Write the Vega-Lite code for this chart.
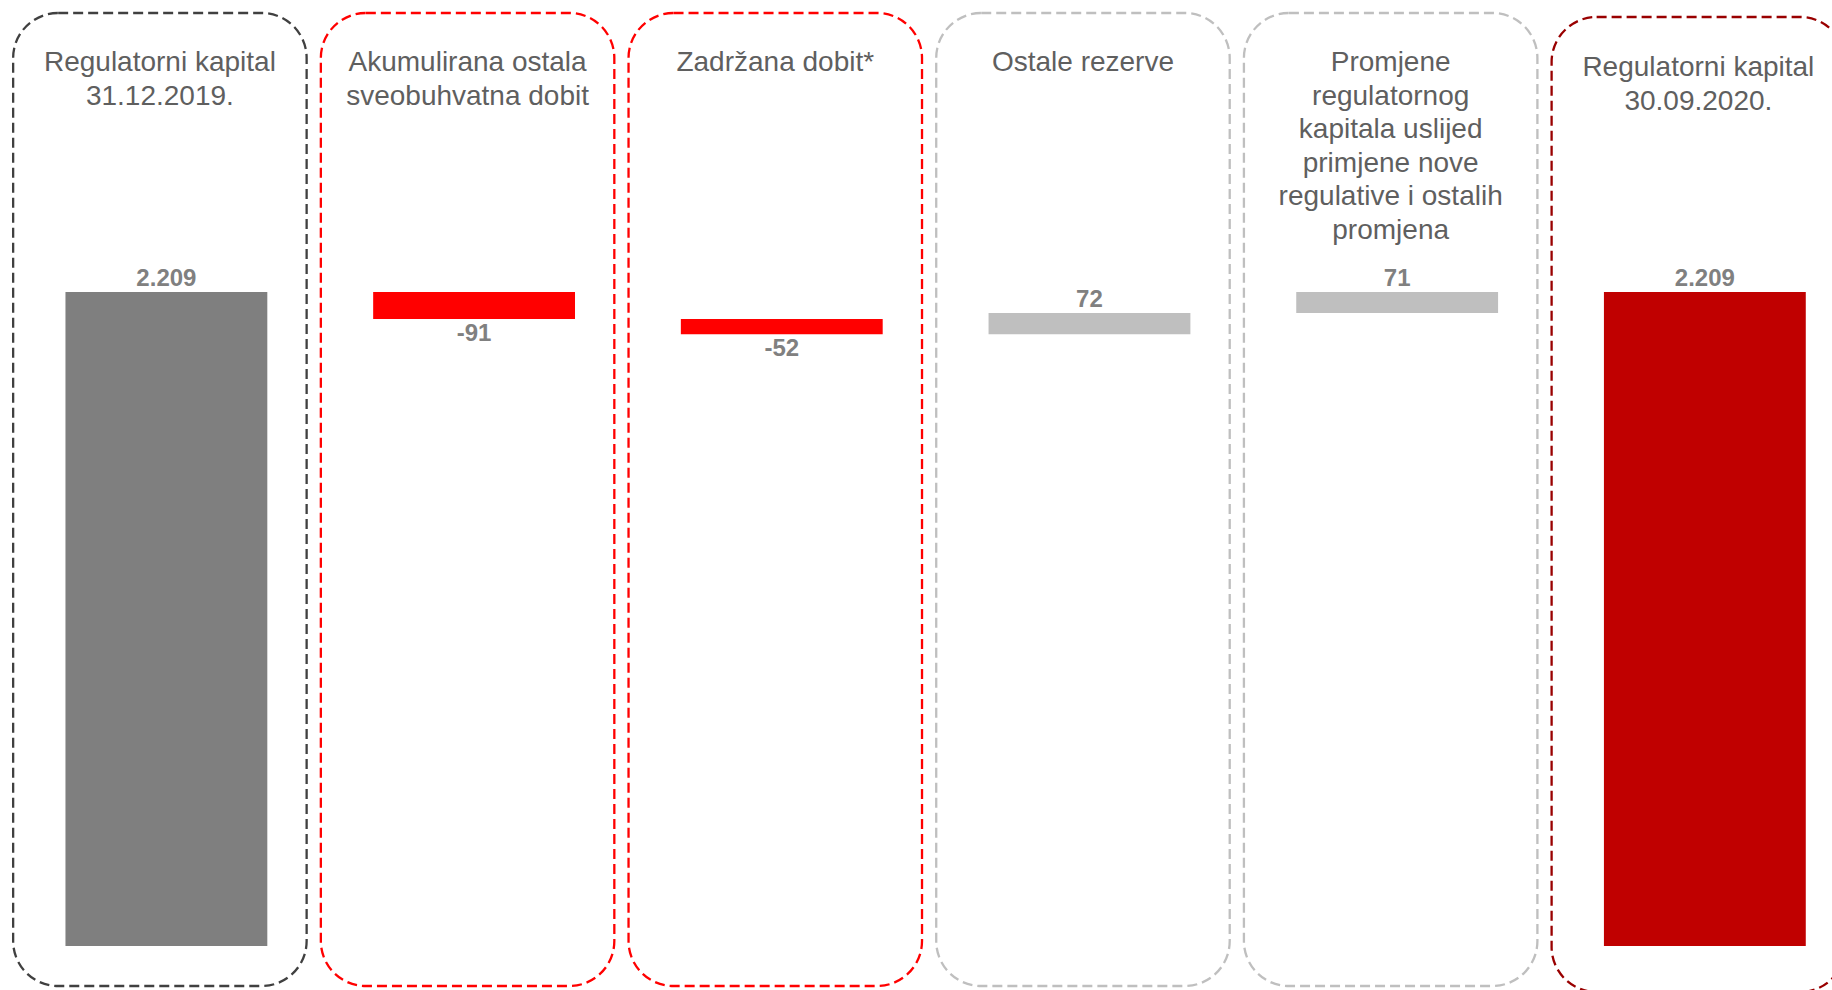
{
  "$schema": "https://vega.github.io/schema/vega-lite/v6.json",
  "autosize": {"type": "none"},
  "width": 1832,
  "height": 990,
  "padding": 0,
  "background": "white",
  "config": {"view": {"stroke": null}},
  "data": {
    "values": [
      {"key": "A", "title": "Regulatorni kapital\n31.12.2019.", "start": 0, "end": 2209, "value": 2209, "label": "2.209"},
      {"key": "B", "title": "Akumulirana ostala\nsveobuhvatna dobit", "start": 2209, "end": 2118, "value": -91, "label": "-91"},
      {"key": "C", "title": "Zadržana dobit*", "start": 2118, "end": 2066, "value": -52, "label": "-52"},
      {"key": "D", "title": "Ostale rezerve", "start": 2066, "end": 2138, "value": 72, "label": "72"},
      {"key": "E", "title": "Promjene\nregulatornog\nkapitala uslijed\nprimjene nove\nregulative i ostalih\npromjena", "start": 2138, "end": 2209, "value": 71, "label": "71"},
      {"key": "F", "title": "Regulatorni kapital\n30.09.2020.", "start": 0, "end": 2209, "value": 2209, "label": "2.209"}
    ]
  },
  "encoding": {
    "x": {
      "field": "key",
      "type": "nominal",
      "sort": ["A", "B", "C", "D", "E", "F"],
      "scale": {"paddingInner": 0.344, "paddingOuter": 0.149, "align": 0.714},
      "axis": null
    }
  },
  "layer": [
    {
      "transform": [{"filter": "datum.key !== 'F'"}],
      "mark": {"type": "bar", "width": {"band": 1.454}, "xOffset": -6.5, "cornerRadius": 45, "fillOpacity": 0, "fill": "white", "strokeWidth": 2.3, "strokeDash": [10, 5]},
      "encoding": {
        "y": {"datum": 3151.4, "type": "quantitative", "scale": {"domain": [-148.6, 3195.3], "nice": false, "zero": false}, "axis": null},
        "y2": {"datum": -135.1},
        "stroke": {"field": "key", "type": "nominal", "scale": {"domain": ["A", "B", "C", "D", "E", "F"], "range": ["#404040", "#FF0000", "#FF0000", "#BFBFBF", "#BFBFBF", "#990000"]}, "legend": null}
      }
    },
    {
      "transform": [{"filter": "datum.key === 'F'"}],
      "mark": {"type": "bar", "width": {"band": 1.454}, "xOffset": -6.5, "cornerRadius": 45, "fillOpacity": 0, "fill": "white", "strokeWidth": 2.3, "strokeDash": [10, 5]},
      "encoding": {
        "y": {"datum": 3137.9, "type": "quantitative"},
        "y2": {"datum": -155.4},
        "stroke": {"field": "key", "type": "nominal", "legend": null}
      }
    },
    {
      "mark": {"type": "bar"},
      "encoding": {
        "y": {"field": "start", "type": "quantitative"},
        "y2": {"field": "end"},
        "fill": {"field": "key", "type": "nominal", "scale": {"domain": ["A", "B", "C", "D", "E", "F"], "range": ["#7F7F7F", "#FF0000", "#FF0000", "#BFBFBF", "#BFBFBF", "#C00000"]}, "legend": null}
      }
    },
    {
      "transform": [{"filter": "datum.value >= 0"}],
      "mark": {"type": "text", "font": "Liberation Sans", "fontSize": 24, "fontWeight": "bold", "color": "#808080", "baseline": "alphabetic", "align": "center", "dy": -6},
      "encoding": {
        "y": {"field": "end", "type": "quantitative"},
        "text": {"field": "label", "type": "nominal"}
      }
    },
    {
      "transform": [{"filter": "datum.value < 0"}],
      "mark": {"type": "text", "font": "Liberation Sans", "fontSize": 24, "fontWeight": "bold", "color": "#808080", "baseline": "top", "align": "center", "dy": 3},
      "encoding": {
        "y": {"field": "end", "type": "quantitative"},
        "text": {"field": "label", "type": "nominal"}
      }
    },
    {
      "transform": [{"filter": "datum.key !== 'F'"}],
      "mark": {"type": "text", "font": "Liberation Sans", "fontSize": 28, "color": "#5F5F5F", "baseline": "alphabetic", "align": "center", "lineBreak": "\n", "lineHeight": 33.6, "xOffset": -6.5},
      "encoding": {
        "y": {"datum": 2955.5, "type": "quantitative"},
        "text": {"field": "title", "type": "nominal"}
      }
    },
    {
      "transform": [{"filter": "datum.key === 'F'"}],
      "mark": {"type": "text", "font": "Liberation Sans", "fontSize": 28, "color": "#5F5F5F", "baseline": "alphabetic", "align": "center", "lineBreak": "\n", "lineHeight": 33.6, "xOffset": -6.5},
      "encoding": {
        "y": {"datum": 2938.6, "type": "quantitative"},
        "text": {"field": "title", "type": "nominal"}
      }
    }
  ]
}
